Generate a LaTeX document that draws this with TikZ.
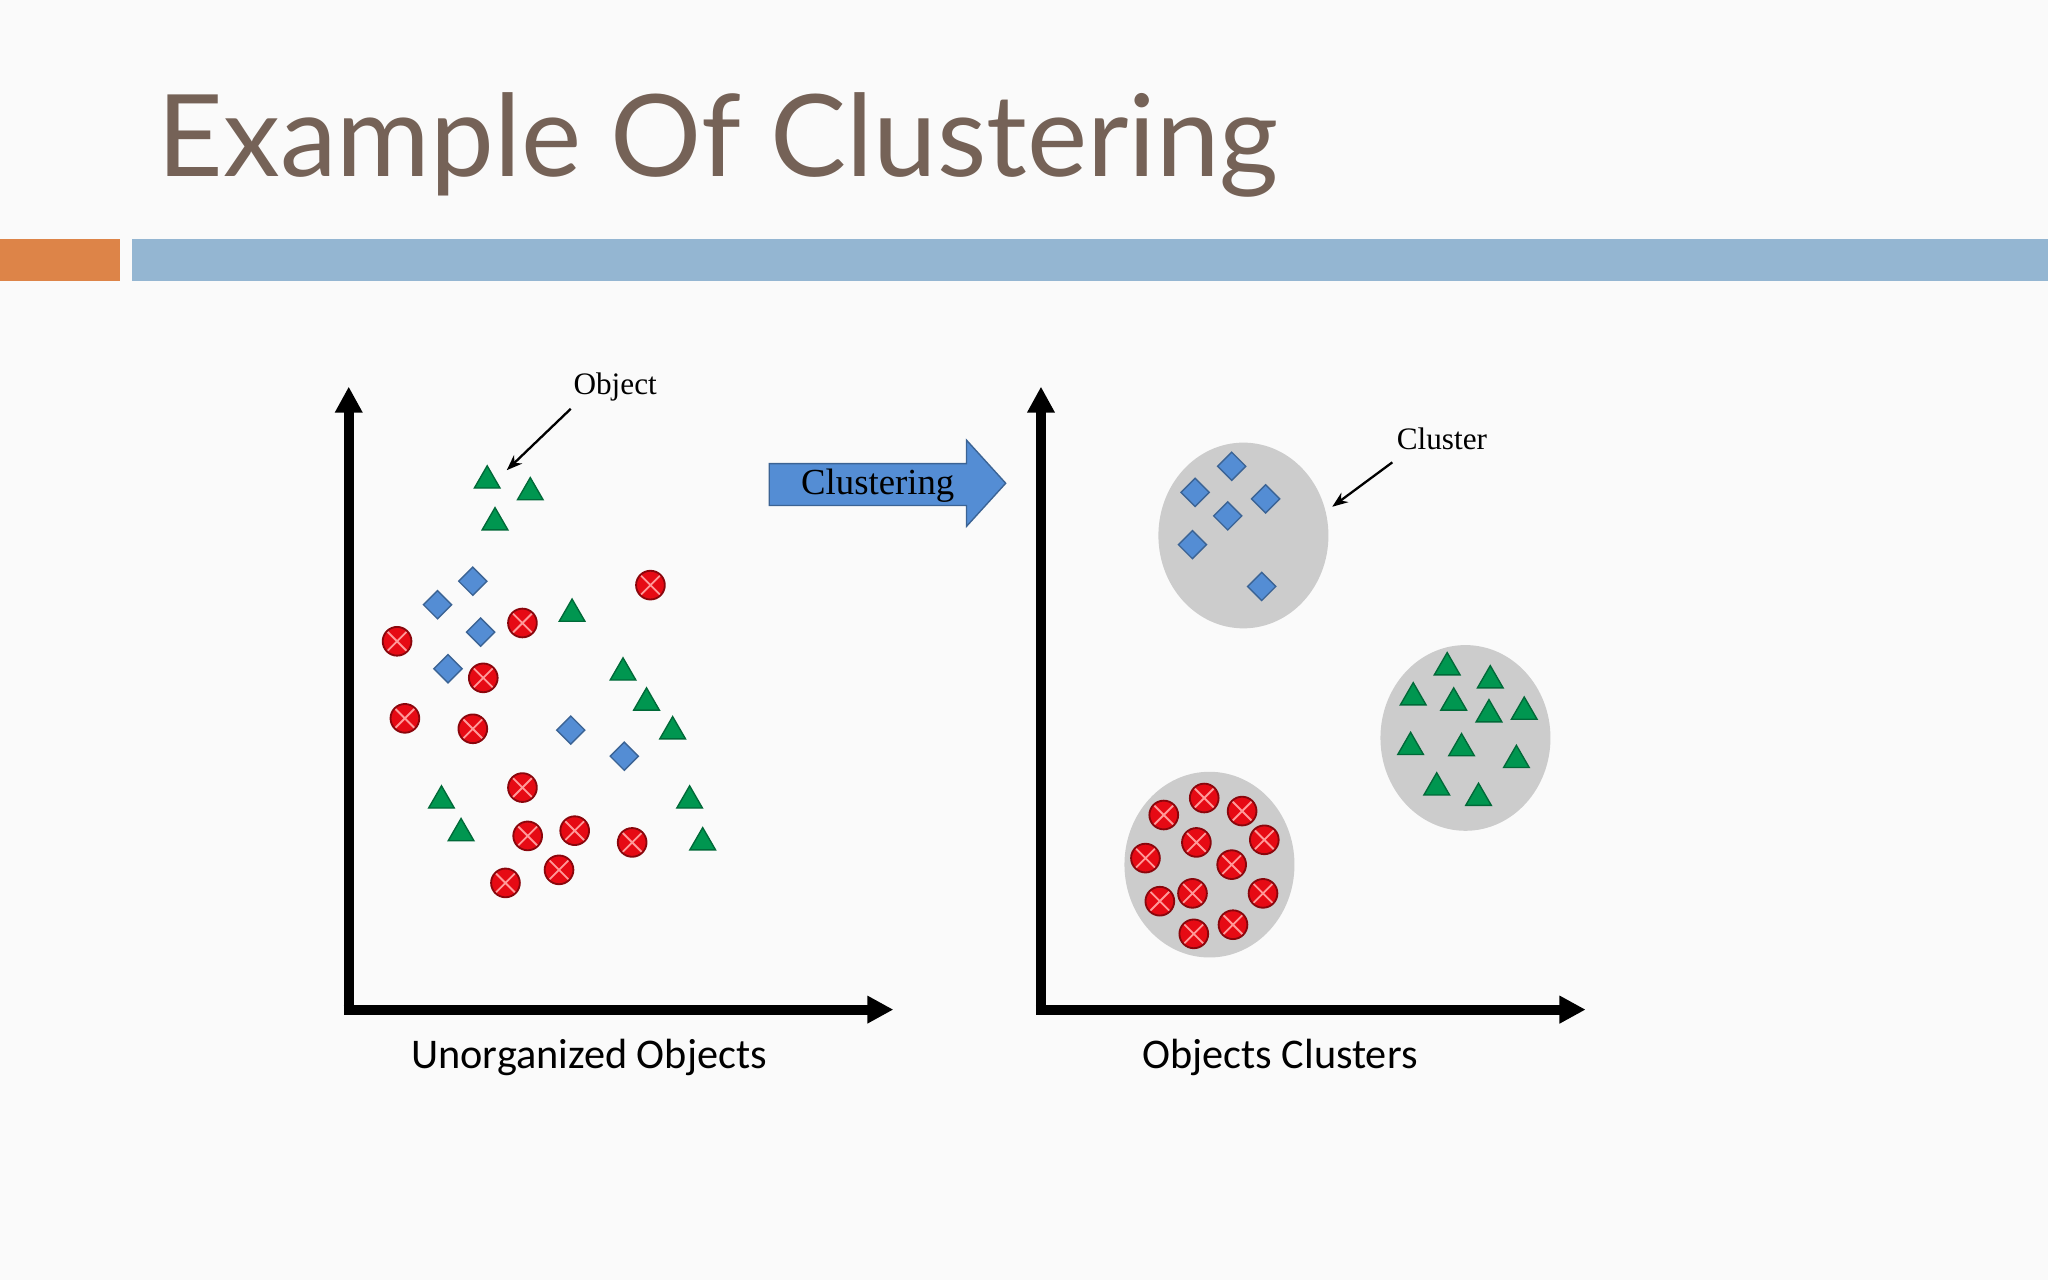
\documentclass[tikz,border=0pt]{standalone}
\usepackage{fontspec}
\setmainfont{Liberation Serif}
\newfontfamily\titlefont{Lato}
\newfontfamily\labelfont{Carlito}
\usetikzlibrary{arrows.meta,shapes.geometric}
\definecolor{titlebrown}{RGB}{117,98,87}
\definecolor{barorange}{RGB}{221,132,72}
\definecolor{barblue}{RGB}{148,182,210}
\definecolor{trigreen}{RGB}{0,150,80}
\definecolor{diablue}{RGB}{84,141,212}
\definecolor{dotred}{RGB}{230,10,20}
\definecolor{clgray}{RGB}{204,204,204}
\begin{document}
\begin{tikzpicture}[x=0.01cm,y=-0.01cm,
  tri/.style={isosceles triangle,isosceles triangle apex angle=60,shape border rotate=90,
    fill=trigreen,draw=trigreen!70!black,line width=0.3pt,inner sep=0pt,minimum size=0.17cm},
  dia/.style={diamond,fill=diablue,draw=diablue!70!black,line width=0.3pt,inner sep=0pt,minimum size=0.22cm},
  dot/.style={circle,fill=dotred,draw=dotred!60!black,line width=0.4pt,inner sep=0pt,minimum size=0.22cm,
    path picture={\draw[red!40!white,line width=0.4pt]
      (path picture bounding box.south west)--(path picture bounding box.north east)
      (path picture bounding box.north west)--(path picture bounding box.south east);}},
  axis/.style={line width=2.2pt,-{Triangle[length=0.2cm,width=0.2cm]}},
  cluster/.style={ellipse,fill=clgray,draw=gray!40,line width=0.6pt,minimum width=1.28cm,minimum height=1.40cm},
  pointer/.style={-{Stealth[length=0.12cm]},line width=0.5pt}]
  % background and frame
  \fill[white!98!black] (0,0) rectangle (1568,980);
  \useasboundingbox (0,0) rectangle (1568,980);
  \node[anchor=base west,inner sep=0pt,text=titlebrown,font=\titlefont\fontsize{24.8}{28}\selectfont] (title) at (120,135) {Example Of Clustering};
  \fill[barorange] (0,183) rectangle (92,215);
  \fill[barblue] (101,183) rectangle (1568,215);
  % axes
  \coordinate (o1) at (267,773);
  \coordinate (y1) at (267,296);
  \coordinate (x1) at (684,773);
  \coordinate (o2) at (797,773);
  \coordinate (y2) at (797,296);
  \coordinate (x2) at (1214,773);
  \draw[axis] ([yshift=-1.1pt]o1) -- (y1);
  \draw[axis] ([xshift=-1.1pt]o1) -- (x1);
  \draw[axis] ([yshift=-1.1pt]o2) -- (y2);
  \draw[axis] ([xshift=-1.1pt]o2) -- (x2);
  \node[font=\labelfont\fontsize{9.2}{11}\selectfont] (lab1) at (451,810) {Unorganized Objects};
  \node[font=\labelfont\fontsize{9.2}{11}\selectfont] (lab2) at (980,810) {Objects Clusters};
  % block arrow
  \filldraw[fill=diablue,draw=diablue!70!black,line width=0.3pt]
    (589,355) -- (740,355) -- (740,337) -- (770,370) -- (740,403) -- (740,387) -- (589,387) -- cycle;
  \node[font=\fontsize{8}{10}\selectfont] (clust) at (672,372) {Clustering};
  % clusters
  \node[cluster] (c1) at (952,410) {};
  \node[cluster] (c2) at (1122,565) {};
  \node[cluster] (c3) at (926,662) {};
  % unorganized objects
  \foreach \p [count=\i] in {(373,368),(406,377),(379,400),(438,470),(477,515),(495,538),(515,560),(338,613),(353,638),(528,613),(538,645)}
    \node[tri] (lt\i) at \p {};
  \foreach \p [count=\i] in {(362,445),(335,463),(368,484),(343,512),(437,559),(478,579)}
    \node[dia] (ld\i) at \p {};
  \foreach \p [count=\i] in {(498,448),(400,477),(304,491),(370,519),(310,550),(362,558),(400,603),(404,640),(440,636),(484,645),(428,666),(387,676)}
    \node[dot] (lc\i) at \p {};
  % clustered objects
  \foreach \p [count=\i] in {(943,357),(915,377),(969,382),(940,395),(913,417),(966,449)}
    \node[dia] (rd\i) at \p {};
  \foreach \p [count=\i] in {(1108,511),(1141,521),(1082,534),(1113,538),(1140,547),(1167,545),(1080,572),(1119,573),(1161,582),(1100,603),(1132,611)}
    \node[tri] (rt\i) at \p {};
  \foreach \p [count=\i] in {(922,611),(891,624),(951,621),(916,645),(968,643),(877,657),(943,662),(888,690),(913,684),(967,684),(914,715),(944,708)}
    \node[dot] (rc\i) at \p {};
  % callouts
  \node[font=\fontsize{6.8}{8}\selectfont] (objlab) at (471,296) {Object};
  \coordinate (objtip) at (388,360);
  \draw[pointer] (437,313) -- (objtip);
  \node[font=\fontsize{6.8}{8}\selectfont] (cllab) at (1104,336) {Cluster};
  \coordinate (cltip) at (1020,388);
  \draw[pointer] (1066,354) -- (cltip);
\end{tikzpicture}
\end{document}
